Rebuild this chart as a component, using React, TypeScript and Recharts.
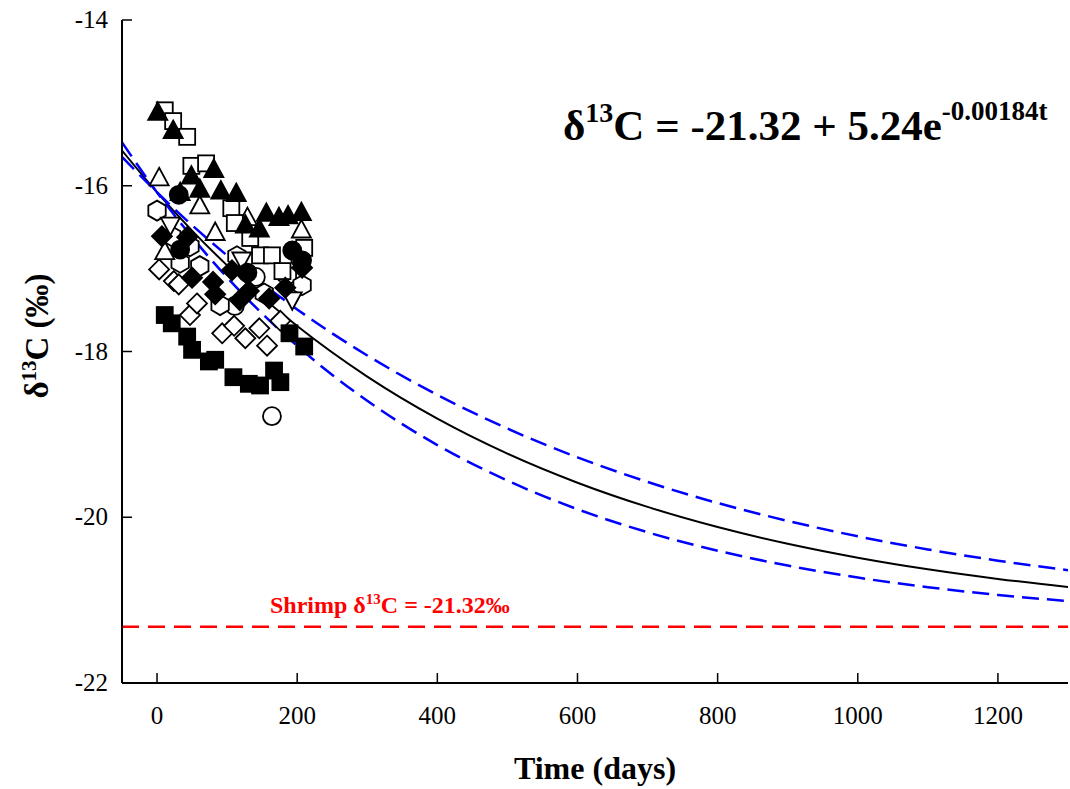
import { ComposedChart, Scatter, Line, XAxis, YAxis, ReferenceLine } from 'recharts'

type Pt = { t: number; v: number }

// tick labels
const xTicks = [0, 200, 400, 600, 800, 1000, 1200]
const yTicks = [-22, -20, -18, -16, -14]

// observed samples, one list per marker style
const filledTriUp: Pt[] = [
  { t: 1, v: -15.12 }, { t: 23, v: -15.34 }, { t: 33, v: -16.09 }, { t: 49, v: -15.89 },
  { t: 61, v: -16.05 }, { t: 81, v: -15.81 }, { t: 91, v: -16.07 }, { t: 113, v: -16.1 },
  { t: 126, v: -16.48 }, { t: 146, v: -16.53 }, { t: 156, v: -16.34 }, { t: 174, v: -16.39 },
  { t: 187, v: -16.37 }, { t: 206, v: -16.33 },
]
const openSquare: Pt[] = [
  { t: 11, v: -15.09 }, { t: 23, v: -15.22 }, { t: 43, v: -15.41 }, { t: 49, v: -15.76 },
  { t: 70, v: -15.73 }, { t: 106, v: -16.27 }, { t: 111, v: -16.45 }, { t: 133, v: -16.63 },
  { t: 147, v: -16.84 }, { t: 164, v: -16.84 }, { t: 179, v: -17.03 }, { t: 203, v: -16.78 },
  { t: 210, v: -16.75 },
]
const openTriUp: Pt[] = [
  { t: 3, v: -15.91 }, { t: 11, v: -16.8 }, { t: 61, v: -16.25 }, { t: 83, v: -16.57 },
  { t: 129, v: -16.39 }, { t: 206, v: -16.54 },
]
const openTriDown: Pt[] = [
  { t: 19, v: -16.47 }, { t: 121, v: -16.89 }, { t: 193, v: -17.37 },
]
const openHex: Pt[] = [
  { t: 0, v: -16.3 }, { t: 21, v: -16.61 }, { t: 33, v: -16.93 }, { t: 47, v: -16.73 },
  { t: 61, v: -16.97 }, { t: 90, v: -17.44 }, { t: 114, v: -16.85 }, { t: 153, v: -17.3 },
  { t: 186, v: -17.08 }, { t: 207, v: -17.2 },
]
const openDiamond: Pt[] = [
  { t: 3, v: -17.01 }, { t: 24, v: -17.15 }, { t: 31, v: -17.19 }, { t: 47, v: -17.56 },
  { t: 57, v: -17.42 }, { t: 93, v: -17.78 }, { t: 110, v: -17.69 }, { t: 126, v: -17.84 },
  { t: 146, v: -17.72 }, { t: 157, v: -17.93 }, { t: 176, v: -17.63 },
]
const filledDiamond: Pt[] = [
  { t: 7, v: -16.61 }, { t: 43, v: -16.62 }, { t: 50, v: -17.11 }, { t: 80, v: -17.16 },
  { t: 83, v: -17.31 }, { t: 107, v: -17.02 }, { t: 118, v: -17.38 }, { t: 131, v: -17.27 },
  { t: 160, v: -17.36 }, { t: 183, v: -17.23 }, { t: 207, v: -16.99 },
]
const filledSquare: Pt[] = [
  { t: 11, v: -17.56 }, { t: 21, v: -17.66 }, { t: 43, v: -17.82 }, { t: 50, v: -17.98 },
  { t: 74, v: -18.12 }, { t: 83, v: -18.1 }, { t: 109, v: -18.31 }, { t: 131, v: -18.39 },
  { t: 147, v: -18.41 }, { t: 167, v: -18.23 }, { t: 176, v: -18.37 }, { t: 189, v: -17.78 },
  { t: 210, v: -17.94 },
]
const filledCircle: Pt[] = [
  { t: 31, v: -16.11 }, { t: 33, v: -16.77 }, { t: 129, v: -17.05 }, { t: 193, v: -16.78 },
  { t: 207, v: -16.9 },
]
const openCircle: Pt[] = [
  { t: 111, v: -17.45 }, { t: 141, v: -17.1 }, { t: 204, v: -16.88 }, { t: 164, v: -18.78 },
]

// fitted curve and the two dashed bands
const fitCurve: Pt[] = [
  { t: -50, v: -15.575 }, { t: 0, v: -16.08 }, { t: 50, v: -16.541 }, { t: 100, v: -16.961 },
  { t: 200, v: -17.693 }, { t: 300, v: -18.303 }, { t: 400, v: -18.81 }, { t: 500, v: -19.232 },
  { t: 600, v: -19.583 }, { t: 700, v: -19.875 }, { t: 800, v: -20.118 }, { t: 900, v: -20.32 },
  { t: 1000, v: -20.488 }, { t: 1100, v: -20.628 }, { t: 1200, v: -20.744 }, { t: 1300, v: -20.841 },
]
const bandUpper: Pt[] = [
  { t: -50, v: -15.652 }, { t: 0, v: -16.08 }, { t: 50, v: -16.476 }, { t: 100, v: -16.841 },
  { t: 200, v: -17.492 }, { t: 300, v: -18.048 }, { t: 400, v: -18.523 }, { t: 500, v: -18.93 },
  { t: 600, v: -19.277 }, { t: 700, v: -19.574 }, { t: 800, v: -19.828 }, { t: 900, v: -20.044 },
  { t: 1000, v: -20.23 }, { t: 1100, v: -20.388 }, { t: 1200, v: -20.524 }, { t: 1300, v: -20.639 },
]
const bandLower: Pt[] = [
  { t: -50, v: -15.476 }, { t: 0, v: -16.08 }, { t: 50, v: -16.621 }, { t: 100, v: -17.107 },
  { t: 200, v: -17.932 }, { t: 300, v: -18.595 }, { t: 400, v: -19.129 }, { t: 500, v: -19.558 },
  { t: 600, v: -19.903 }, { t: 700, v: -20.181 }, { t: 800, v: -20.404 }, { t: 900, v: -20.583 },
  { t: 1000, v: -20.728 }, { t: 1100, v: -20.844 }, { t: 1200, v: -20.937 }, { t: 1300, v: -21.012 },
]
const shrimpValue = -21.32

const serif = '"Liberation Serif", "Times New Roman", serif'

const marker = (kind: string, filled: boolean) => (p: any) => {
  const { cx, cy } = p
  if (cx == null || cy == null) return <g />
  const common = { fill: filled ? '#000' : '#fff', stroke: '#000', strokeWidth: 1.8 }
  const pts = (arr: number[][]) => arr.map(([dx, dy]) => `${cx + dx},${cy + dy}`).join(' ')
  switch (kind) {
    case 'square':
      return <rect x={cx - 8} y={cy - 8} width={16} height={16} {...common} />
    case 'circle':
      return <circle cx={cx} cy={cy} r={9} {...common} />
    case 'triUp':
      return <polygon points={pts([[0, -10.5], [9.5, 7], [-9.5, 7]])} {...common} />
    case 'triDown':
      return <polygon points={pts([[0, 10.5], [9.5, -7], [-9.5, -7]])} {...common} />
    case 'diamond':
      return <polygon points={pts([[0, -10], [10, 0], [0, 10], [-10, 0]])} {...common} />
    default: // hexagon
      return <polygon points={pts([[0, -10], [8.7, -5], [8.7, 5], [0, 10], [-8.7, 5], [-8.7, -5]])} {...common} />
  }
}

const XTick = ({ x, y, payload }: any) => (
  <g>
    <line x1={x} y1={y} x2={x} y2={y - 10} stroke="#000" strokeWidth={1.5} />
    <text x={x} y={y + 41} textAnchor="middle" fontFamily={serif} fontSize={25} fill="#000">{payload.value}</text>
  </g>
)

const YTick = ({ x, y, payload }: any) => (
  <g>
    <line x1={x} y1={y} x2={x + 10} y2={y} stroke="#000" strokeWidth={1.5} />
    <text x={x - 14} y={y + 8} textAnchor="end" fontFamily={serif} fontSize={25} fill="#000">{payload.value}</text>
  </g>
)

export default function App() {
  return (
    <div style={{ position: 'absolute', left: 0, top: 0, width: 1070, height: 789, background: '#fff' }}>
      <ComposedChart width={1070} height={789} margin={{ top: 20, right: 2, bottom: 66, left: 62 }}>
        <XAxis type="number" dataKey="t" domain={[-50, 1300]} ticks={xTicks} allowDataOverflow
          axisLine={{ stroke: '#000', strokeWidth: 2 }} tickLine={false} tickSize={0} tickMargin={0}
          tick={<XTick />} height={40} interval={0} />
        <YAxis type="number" dataKey="v" domain={[-22, -14]} ticks={yTicks} allowDataOverflow
          axisLine={{ stroke: '#000', strokeWidth: 2 }} tickLine={false} tickSize={0} tickMargin={0}
          tick={<YTick />} width={60} interval={0} />

        <Scatter data={openCircle} shape={marker('circle', false)} isAnimationActive={false} />
        <Scatter data={openDiamond} shape={marker('diamond', false)} isAnimationActive={false} />
        <Scatter data={openHex} shape={marker('hex', false)} isAnimationActive={false} />
        <Scatter data={openTriDown} shape={marker('triDown', false)} isAnimationActive={false} />
        <Scatter data={openTriUp} shape={marker('triUp', false)} isAnimationActive={false} />
        <Scatter data={openSquare} shape={marker('square', false)} isAnimationActive={false} />
        <Scatter data={filledDiamond} shape={marker('diamond', true)} isAnimationActive={false} />
        <Scatter data={filledCircle} shape={marker('circle', true)} isAnimationActive={false} />
        <Scatter data={filledSquare} shape={marker('square', true)} isAnimationActive={false} />
        <Scatter data={filledTriUp} shape={marker('triUp', true)} isAnimationActive={false} />

        <ReferenceLine y={shrimpValue} stroke="#ff0000" strokeWidth={2.5} strokeDasharray="17 9" />

        <Line data={fitCurve} dataKey="v" type="monotone" stroke="#000" strokeWidth={2} dot={false} isAnimationActive={false} />
        <Line data={bandUpper} dataKey="v" type="monotone" stroke="#0000ff" strokeWidth={2.5} strokeDasharray="17 8" dot={false} isAnimationActive={false} />
        <Line data={bandLower} dataKey="v" type="monotone" stroke="#0000ff" strokeWidth={2.5} strokeDasharray="17 8" dot={false} isAnimationActive={false} />

        {/* equation */}
        <text x={563} y={140} fontFamily={serif} fontSize={43} fontWeight="bold" fill="#000">
          δ<tspan fontSize={28} dy={-18}>13</tspan><tspan dy={18}>C = -21.32 + 5.24e</tspan><tspan fontSize={27} dy={-20}>-0.00184t</tspan>
        </text>
        {/* shrimp baseline label */}
        <text x={270} y={613} fontFamily={serif} fontSize={24} fontWeight="bold" fill="#ff0000">
          Shrimp δ<tspan fontSize={15} dy={-9}>13</tspan><tspan dy={9}>C = -21.32‰</tspan>
        </text>
        {/* axis titles */}
        <text x={595} y={779} textAnchor="middle" fontFamily={serif} fontSize={32} fontWeight="bold" fill="#000">Time (days)</text>
        <text x={48} y={336} transform="rotate(-90 48 336)" textAnchor="middle" fontFamily={serif} fontSize={33} fontWeight="bold" fill="#000">
          δ<tspan fontSize={21} dy={-12}>13</tspan><tspan dy={12}>C (‰)</tspan>
        </text>
      </ComposedChart>
    </div>
  )
}
